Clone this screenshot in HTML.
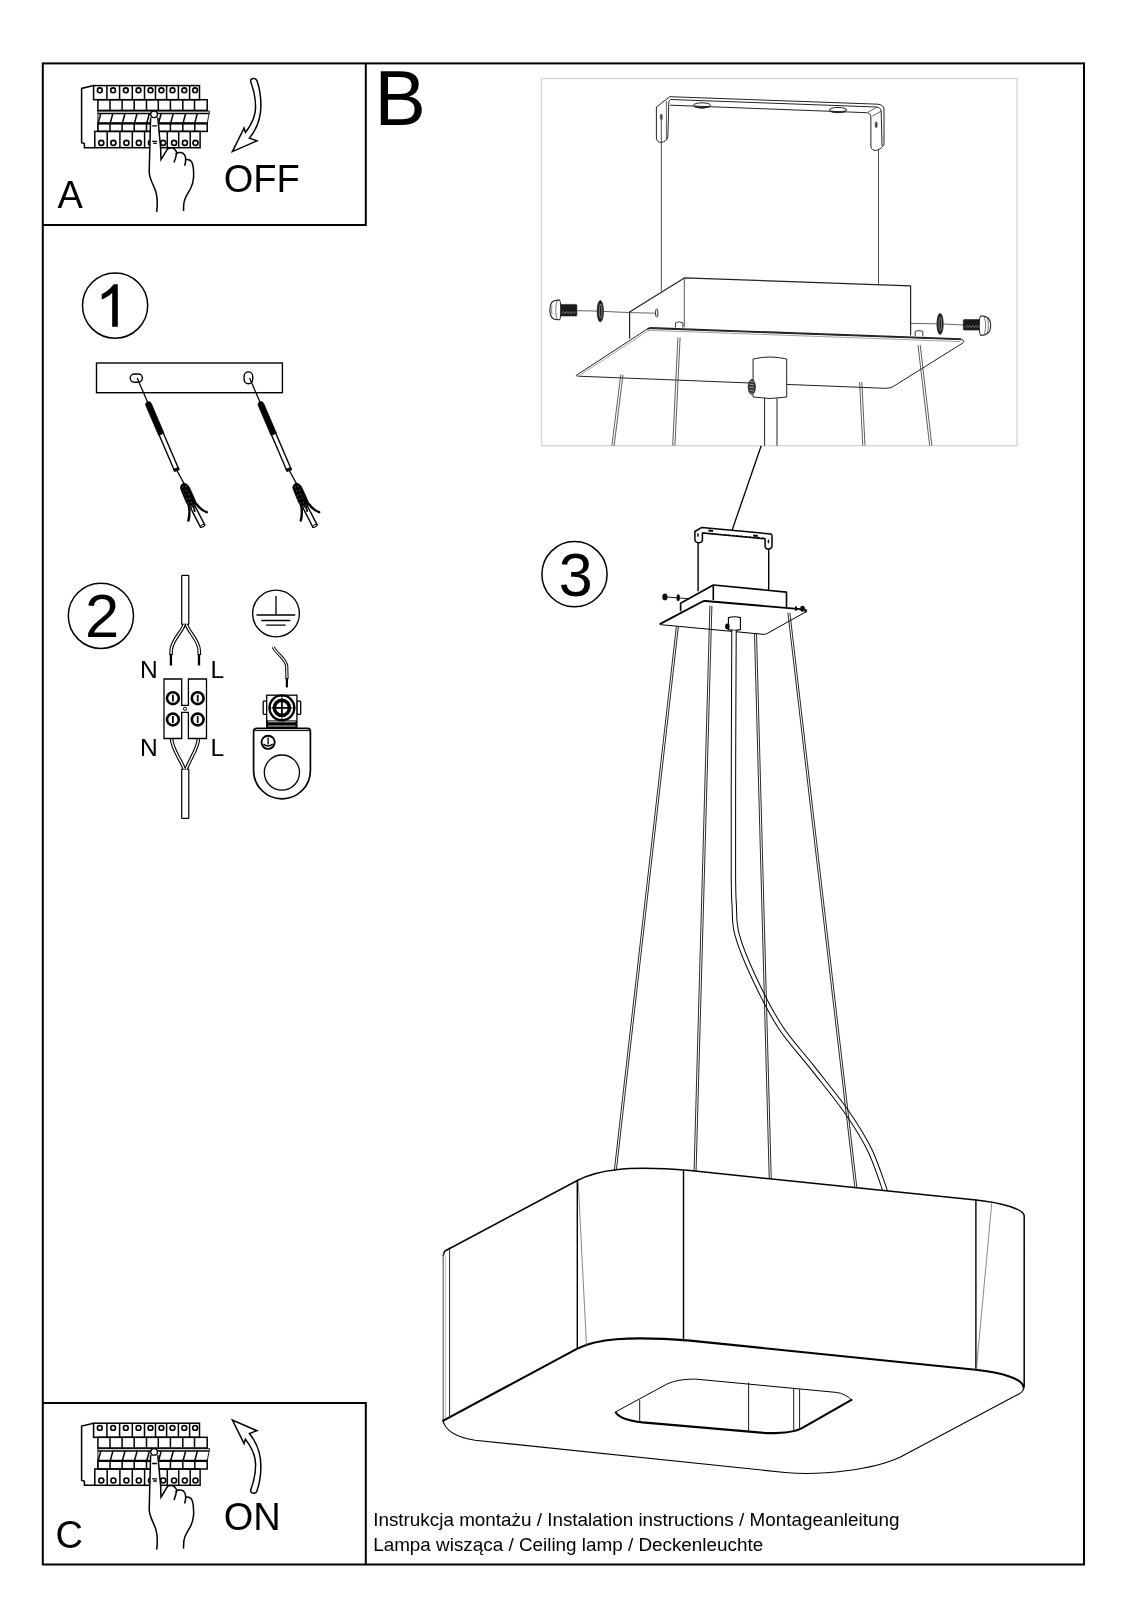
<!DOCTYPE html>
<html><head><meta charset="utf-8"><style>
html,body{margin:0;padding:0;background:#fff;}
svg{display:block;will-change:transform;}
</style></head><body>
<svg width="1130" height="1600" viewBox="0 0 1130 1600">
<rect width="1130" height="1600" fill="#fff"/>
<g fill="none" stroke="#000" stroke-width="2">
<rect x="42.8" y="63.4" width="1041.2" height="1501.1"/>
<path d="M365.8,63.4 V225 H42.8"/>
<path d="M365.8,1564.5 V1403.1 H42.8"/>
</g>
<g id="brk" fill="none" stroke="#000" stroke-width="1.5">
<path d="M93.6,85.6 L81.6,88.4 L81.6,142.6 L84.4,143.6 L84.4,147.7 L94.8,147.7"/>
<rect x="93.6" y="85.6" width="105.9" height="14.1"/>
<path d="M106.9,85.6 V99.7"/>
<path d="M119.6,85.6 V99.7"/>
<path d="M132.3,85.6 V99.7"/>
<path d="M144.5,85.6 V99.7"/>
<path d="M155.5,85.6 V99.7"/>
<path d="M166.6,85.6 V99.7"/>
<path d="M178.4,85.6 V99.7"/>
<path d="M189.6,85.6 V99.7"/>
<circle cx="99.8" cy="90.3" r="2.4" stroke-width="1.6"/>
<circle cx="113.1" cy="90.3" r="2.4" stroke-width="1.6"/>
<circle cx="125.8" cy="90.3" r="2.4" stroke-width="1.6"/>
<circle cx="138.5" cy="90.3" r="2.4" stroke-width="1.6"/>
<circle cx="150.5" cy="90.3" r="2.4" stroke-width="1.6"/>
<circle cx="161.4" cy="90.3" r="2.4" stroke-width="1.6"/>
<circle cx="172.5" cy="90.3" r="2.4" stroke-width="1.6"/>
<circle cx="184.3" cy="90.3" r="2.4" stroke-width="1.6"/>
<circle cx="195.1" cy="90.3" r="2.4" stroke-width="1.6"/>
<rect x="97.9" y="99.7" width="109.3" height="10.7"/>
<path d="M110,99.7 V110.4"/>
<path d="M122.1,99.7 V110.4"/>
<path d="M134.2,99.7 V110.4"/>
<path d="M146.5,99.7 V110.4"/>
<path d="M158.3,99.7 V110.4"/>
<path d="M170.4,99.7 V110.4"/>
<path d="M182.8,99.7 V110.4"/>
<path d="M194.5,99.7 V110.4"/>
<path d="M97.9,110.4 V131.4 M97.9,111.1 H209.6 L207.2,123.4" stroke-width="0.9"/>
<path d="M97.9,113.4 H209.2"/>
<path d="M100.9,113 L98.10000000000001,123.4"/>
<path d="M113,113 L110.2,123.4"/>
<path d="M125.1,113 L122.3,123.4"/>
<path d="M137.2,113 L134.39999999999998,123.4"/>
<path d="M149.5,113 L146.7,123.4"/>
<path d="M161.3,113 L158.5,123.4"/>
<path d="M173.4,113 L170.6,123.4"/>
<path d="M185.8,113 L183.0,123.4"/>
<path d="M197.5,113 L194.7,123.4"/>
<path d="M97.9,123.3 H207.2" stroke-width="2.2"/>
<rect x="97.9" y="123.4" width="109.3" height="8"/>
<path d="M110,123.4 V131.4"/>
<path d="M122.1,123.4 V131.4"/>
<path d="M134.2,123.4 V131.4"/>
<path d="M146.5,123.4 V131.4"/>
<path d="M158.3,123.4 V131.4"/>
<path d="M170.4,123.4 V131.4"/>
<path d="M182.8,123.4 V131.4"/>
<path d="M194.8,123.4 V131.4"/>
<rect x="94.8" y="131.4" width="105.3" height="16.3"/>
<path d="M107.2,131.4 V147.7"/>
<path d="M119.9,131.4 V147.7"/>
<path d="M132.3,131.4 V147.7"/>
<path d="M144.6,131.4 V147.7"/>
<path d="M155.5,131.4 V147.7"/>
<path d="M167.3,131.4 V147.7"/>
<path d="M178.7,131.4 V147.7"/>
<path d="M190.2,131.4 V147.7"/>
<circle cx="101.3" cy="142.9" r="2.5" stroke-width="1.6"/>
<circle cx="113.4" cy="142.9" r="2.5" stroke-width="1.6"/>
<circle cx="126.4" cy="142.9" r="2.5" stroke-width="1.6"/>
<circle cx="138.8" cy="142.9" r="2.5" stroke-width="1.6"/>
<circle cx="151" cy="142.9" r="2.5" stroke-width="1.6"/>
<circle cx="163.2" cy="142.9" r="2.5" stroke-width="1.6"/>
<circle cx="174.1" cy="142.9" r="2.5" stroke-width="1.6"/>
<circle cx="184.9" cy="142.9" r="2.5" stroke-width="1.6"/>
<circle cx="195.5" cy="142.9" r="2.5" stroke-width="1.6"/>
<path d="M156.7,212 C157.6,205 157.6,198 155.9,192 C154,185 149.5,180 149.2,172 L150.3,116.5 A3.5,3.5 0 1 1 157.4,116.5 L160.6,148 L161,159.6 L167.6,148.8 C170.5,147.4 174.2,147.8 175.6,150.5 C177,152.5 176.8,153.3 176.6,153.3 C178.3,151.8 183.2,152 184.9,155.4 C185.6,157 185.7,159.6 185.7,159.6 C188.5,159.2 191.2,160.2 192.4,163.5 C193.4,167 193.8,172 193.6,177.2 C193.2,182 192.5,185 190.6,188.5 C188.8,192 186.5,195 185,199 C183.6,202.5 183.4,206 183.6,211 Z" fill="#fff" stroke="none"/>
<path d="M156.7,212 C157.6,205 157.6,198 155.9,192 C154,185 149.5,180 149.2,172 L150.6,117.5"/>
<path d="M157.8,117.5 L160.6,148 L161,159.6 L167.6,148.8 C170.5,147.4 174.2,147.8 175.6,150.5 C177,152.5 176.8,153.3 176.6,153.3 C178.3,151.8 183.2,152 184.9,155.4 C185.6,157 185.7,159.6 185.7,159.6 C188.5,159.2 191.2,160.2 192.4,163.5 C193.4,167 193.8,172 193.6,177.2 C193.2,182 192.5,185 190.6,188.5 C188.8,192 186.5,195 185,199 C183.6,202.5 183.4,206 183.6,211"/>
<circle cx="154.1" cy="114.3" r="3.3" fill="#fff" stroke-width="1.3"/>
<path d="M176.6,153.3 C176,157 175,160 174,162.5 M185.7,159.6 C185.6,162 185.2,164 184.6,165.8"/>
<path d="M152.2,125.9 H156.9 M152.2,141.3 H157.1 M153.2,143.4 H156.8" stroke-width="1.3"/>
</g>
<path d="M250.7,81.5 C253.5,89 255.6,98 255.6,107.2 C255.6,116 252,124 245.4,132.5 L244.1,128 L232.4,151.6 L256.9,140.9 L249.4,138.1 C256,130 260.9,118 260.9,105.4 C260.9,96 259.5,88 256.9,80.6 C256,77.6 250,77.6 250.7,81.5 Z" fill="#fff" stroke="#000" stroke-width="1.5" stroke-linejoin="miter"/>
<use href="#brk" transform="translate(0,1337.6)"/>
<g transform="matrix(1 0 0 -1 0 1571.6)">
<path d="M250.7,81.5 C253.5,89 255.6,98 255.6,107.2 C255.6,116 252,124 245.4,132.5 L244.1,128 L232.4,151.6 L256.9,140.9 L249.4,138.1 C256,130 260.9,118 260.9,105.4 C260.9,96 259.5,88 256.9,80.6 C256,77.6 250,77.6 250.7,81.5 Z" fill="#fff" stroke="#000" stroke-width="1.5" stroke-linejoin="miter"/>
</g>
<g fill="none" stroke="#000" stroke-width="1.5">
<circle cx="115.1" cy="305.6" r="32.6"/>
<circle cx="100.9" cy="615.8" r="32.6"/>
<circle cx="574.5" cy="574.2" r="32.6"/>
</g>
<path d="M117.8,284.2 L117.8,326.7 L112.2,326.7 L112.2,293 C110,295.3 105.5,298 101.7,299.4 L101.7,294.2 C104.6,292.8 108,290.5 110.4,288 C112,286.3 113,285 113.6,284.2 Z" fill="#000"/>
<text x="84.9" y="636.7" font-size="61.5" style="font-family:'Liberation Sans',sans-serif">2</text>
<text x="558.8" y="596.1" font-size="61" style="font-family:'Liberation Sans',sans-serif">3</text>
<rect x="96.5" y="363" width="185.9" height="29.7" fill="none" stroke="#000" stroke-width="1.4"/>
<rect x="130.2" y="374" width="12.2" height="8.2" rx="4.1" fill="none" stroke="#000" stroke-width="1.4"/>
<rect x="244.1" y="371.9" width="8.6" height="11.8" rx="4.3" fill="none" stroke="#000" stroke-width="1.4"/>
<g transform="translate(137.2,378) rotate(-23.2)" stroke="#000">
<path d="M0,0 V27" stroke-width="1.25"/>
<path d="M-2.9,61 V28.8 Q-2.9,26 0,26 Q2.9,26 2.9,28.8 V61 Z" fill="#000" stroke-width="0.7"/>
<rect x="-2.3" y="61" width="4.6" height="38" fill="#fff" stroke-width="1.4"/>
<rect x="-2.7" y="98.3" width="5.4" height="2.6" fill="#000" stroke-width="0.6"/>
</g>
<path d="M177.1,470.9 L183.8,483.1" stroke="#000" stroke-width="1.2"/>
<g transform="translate(0.0,0)" stroke="#000">
<g transform="translate(193.6,508.5) rotate(-27.2)"><rect x="-2.4" y="-2" width="4.8" height="21.5" fill="#fff" stroke-width="1.4"/><ellipse cx="0" cy="19.5" rx="2.4" ry="1.1" fill="#fff" stroke-width="1.1"/></g>
<path d="M183.8,483.1 C182,483.6 180.6,485.5 180.4,487.6 C181,490 181.6,491.5 182.3,493 L184.2,497.7 L186.7,503.3 L188.8,506.5 L191.2,506 L193.6,504.6 L197.2,505 L192.8,494.8 L189.9,488.5 C188.5,485.5 186.5,483.3 183.8,483.1 Z" fill="#000" stroke-width="0.8"/>
<circle cx="183" cy="487" r="0.55" fill="#888" stroke="none"/>
<circle cx="185.7" cy="486.4" r="0.55" fill="#888" stroke="none"/>
<circle cx="184" cy="491" r="0.55" fill="#888" stroke="none"/>
<circle cx="187" cy="490.5" r="0.55" fill="#888" stroke="none"/>
<circle cx="185.3" cy="495" r="0.55" fill="#888" stroke="none"/>
<circle cx="188.4" cy="494.6" r="0.55" fill="#888" stroke="none"/>
<circle cx="186.6" cy="499" r="0.55" fill="#888" stroke="none"/>
<circle cx="189.8" cy="498.6" r="0.55" fill="#888" stroke="none"/>
<circle cx="188.2" cy="503" r="0.55" fill="#888" stroke="none"/>
<circle cx="191.2" cy="502.6" r="0.55" fill="#888" stroke="none"/>
<path d="M188.6,505 C189.8,510 189.6,515.5 188.4,520.6" fill="none" stroke-width="2.4" stroke-linecap="round"/>
<path d="M196.6,504.2 C199.5,508 202.5,511 206.8,512.2" fill="none" stroke-width="2.4" stroke-linecap="round"/>
<path d="M193.4,506 L194.8,511.2" fill="none" stroke-width="1.8" stroke-linecap="round"/>
</g>
<g transform="translate(249.6,378) rotate(-23.2)" stroke="#000">
<path d="M0,0 V27" stroke-width="1.25"/>
<path d="M-2.9,61 V28.8 Q-2.9,26 0,26 Q2.9,26 2.9,28.8 V61 Z" fill="#000" stroke-width="0.7"/>
<rect x="-2.3" y="61" width="4.6" height="38" fill="#fff" stroke-width="1.4"/>
<rect x="-2.7" y="98.3" width="5.4" height="2.6" fill="#000" stroke-width="0.6"/>
</g>
<path d="M289.5,470.9 L296.2,483.1" stroke="#000" stroke-width="1.2"/>
<g transform="translate(112.4,0)" stroke="#000">
<g transform="translate(193.6,508.5) rotate(-27.2)"><rect x="-2.4" y="-2" width="4.8" height="21.5" fill="#fff" stroke-width="1.4"/><ellipse cx="0" cy="19.5" rx="2.4" ry="1.1" fill="#fff" stroke-width="1.1"/></g>
<path d="M183.8,483.1 C182,483.6 180.6,485.5 180.4,487.6 C181,490 181.6,491.5 182.3,493 L184.2,497.7 L186.7,503.3 L188.8,506.5 L191.2,506 L193.6,504.6 L197.2,505 L192.8,494.8 L189.9,488.5 C188.5,485.5 186.5,483.3 183.8,483.1 Z" fill="#000" stroke-width="0.8"/>
<circle cx="183" cy="487" r="0.55" fill="#888" stroke="none"/>
<circle cx="185.7" cy="486.4" r="0.55" fill="#888" stroke="none"/>
<circle cx="184" cy="491" r="0.55" fill="#888" stroke="none"/>
<circle cx="187" cy="490.5" r="0.55" fill="#888" stroke="none"/>
<circle cx="185.3" cy="495" r="0.55" fill="#888" stroke="none"/>
<circle cx="188.4" cy="494.6" r="0.55" fill="#888" stroke="none"/>
<circle cx="186.6" cy="499" r="0.55" fill="#888" stroke="none"/>
<circle cx="189.8" cy="498.6" r="0.55" fill="#888" stroke="none"/>
<circle cx="188.2" cy="503" r="0.55" fill="#888" stroke="none"/>
<circle cx="191.2" cy="502.6" r="0.55" fill="#888" stroke="none"/>
<path d="M188.6,505 C189.8,510 189.6,515.5 188.4,520.6" fill="none" stroke-width="2.4" stroke-linecap="round"/>
<path d="M196.6,504.2 C199.5,508 202.5,511 206.8,512.2" fill="none" stroke-width="2.4" stroke-linecap="round"/>
<path d="M193.4,506 L194.8,511.2" fill="none" stroke-width="1.8" stroke-linecap="round"/>
</g>
<g fill="#fff" stroke="#000" stroke-width="1.2">
<rect x="181.7" y="575.4" width="7.1" height="49" rx="0.6"/>
<rect x="181.7" y="769" width="7.1" height="49.3" rx="0.6"/>
</g>
<path d="M184.2,624.4 C182,632 171.8,640 171.2,650 L171,655" fill="none" stroke="#000" stroke-width="3.6"/>
<path d="M184.2,624.4 C182,632 171.8,640 171.2,650 L171,655" fill="none" stroke="#fff" stroke-width="1.4"/>
<path d="M186.4,624.4 C188.6,632 198.6,640 199.2,650 L199.3,655" fill="none" stroke="#000" stroke-width="3.6"/>
<path d="M186.4,624.4 C188.6,632 198.6,640 199.2,650 L199.3,655" fill="none" stroke="#fff" stroke-width="1.4"/>
<path d="M170.9,654 V665.5 M199,654 V665.5" stroke="#000" stroke-width="2.3"/>
<path d="M171.6,738.5 C171.6,748 179.8,758 184.3,769" fill="none" stroke="#000" stroke-width="3.6"/>
<path d="M171.6,738.5 C171.6,748 179.8,758 184.3,769" fill="none" stroke="#fff" stroke-width="1.4"/>
<path d="M198.4,738.5 C198.4,748 190.4,758 186.2,769" fill="none" stroke="#000" stroke-width="3.6"/>
<path d="M198.4,738.5 C198.4,748 190.4,758 186.2,769" fill="none" stroke="#fff" stroke-width="1.4"/>
<g fill="#fff" stroke="#000" stroke-width="1.3">
<path d="M164,679 H181.7 V705.3 H188.4 V679 H206.5 V738.5 H188.4 V712.4 H181.7 V738.5 H164 Z"/>
</g>
<circle cx="185" cy="708.8" r="1.6" fill="none" stroke="#000" stroke-width="0.9"/>
<circle cx="172.9" cy="698.2" r="5.9" fill="none" stroke="#000" stroke-width="2.6"/>
<path d="M172.9,694.8000000000001 V701.6" stroke="#000" stroke-width="1.8"/>
<circle cx="197.7" cy="698.2" r="5.9" fill="none" stroke="#000" stroke-width="2.6"/>
<path d="M197.7,694.8000000000001 V701.6" stroke="#000" stroke-width="1.8"/>
<circle cx="172.9" cy="719.5" r="5.9" fill="none" stroke="#000" stroke-width="2.6"/>
<path d="M172.9,716.1 V722.9" stroke="#000" stroke-width="1.8"/>
<circle cx="197.7" cy="719.5" r="5.9" fill="none" stroke="#000" stroke-width="2.6"/>
<path d="M197.7,716.1 V722.9" stroke="#000" stroke-width="1.8"/>
<g fill="none" stroke="#000" stroke-width="1.3">
<circle cx="276" cy="613.5" r="23.4"/>
<path d="M276,596 V614.8 M256.5,615 H295.2 M261.3,620.5 H290.4 M266.1,625.1 H285.6"/>
</g>
<path d="M273.3,647 C276,653.5 285.5,658 286.7,666 L287,679" fill="none" stroke="#000" stroke-width="3.2"/>
<path d="M273.3,647 C276,653.5 285.5,658 286.7,666 L287,679" fill="none" stroke="#fff" stroke-width="1.2"/>
<path d="M286.9,678 V687.4" stroke="#000" stroke-width="2.2"/>
<g stroke="#000" stroke-width="1.3" fill="#fff">
<rect x="263.2" y="701.2" width="3.8" height="13.2" rx="0.8"/>
<rect x="296.9" y="701.2" width="3.8" height="13.2" rx="0.8"/>
<rect x="266.7" y="695.2" width="30.2" height="32.8"/>
<path d="M253.6,731.5 Q253.6,728.4 256.8,728.4 H307.4 Q310.4,728.4 310.4,731.5 V770.4 A28.4,28.4 0 0 1 253.6,770.4 Z" stroke-width="1.7"/>
</g>
<rect x="266.7" y="720.4" width="30.2" height="8" fill="#000"/>
<path d="M268,721.8 H295.6 M268,726 H295.6" stroke="#fff" stroke-width="0.8"/>
<path d="M254.8,730.6 H309.2" stroke="#000" stroke-width="1"/>
<circle cx="281.9" cy="707.8" r="12.4" fill="#fff" stroke="#000" stroke-width="2.4"/>
<circle cx="281.9" cy="707.8" r="7.6" fill="#fff" stroke="#000" stroke-width="3.6"/>
<path d="M281.9,695.6 V720 M269.7,707.8 H294.1" stroke="#000" stroke-width="1.8"/>
<circle cx="281.9" cy="707.8" r="10.3" fill="none" stroke="#fff" stroke-width="0.9"/>
<circle cx="268.1" cy="742.3" r="6.6" fill="none" stroke="#000" stroke-width="1.9"/>
<path d="M268.1,737.4 V744.5 M263.4,744 Q268.1,748 272.8,744" fill="none" stroke="#000" stroke-width="1.3"/>
<circle cx="281.9" cy="772.6" r="17.6" fill="none" stroke="#000" stroke-width="1.3"/>
<rect x="541.5" y="78.5" width="475.5" height="367.2" fill="none" stroke="#d4d4d4" stroke-width="1.3"/>
<g fill="none" stroke="#222" stroke-width="1" stroke-linejoin="round">
<path d="M656.4,107 L669.8,96.7 L878,104.2 C881,104.5 883.8,106 884,109 V143.8 C883.5,147.5 877,151.5 873.7,150.2 C871.5,149.5 870.9,147.5 870.9,146 V117 C870.9,114.5 869,112.7 866.6,112.7 L670.2,105.2"/>
<path d="M656.4,107 V138.1 C656.6,141 659,142.6 661,142.4 C664.5,142 667.3,140 667.8,137 L668.8,103 C668.9,101 669.5,100 670.5,99.5 L876.5,107 C879,107.2 880.8,108.5 881.2,111 L882,146"/>
<path d="M666.4,101 V140 M868,112.2 L877.3,107 M872.3,116.2 L881.2,111.2" stroke-width="0.7"/>
<ellipse cx="702" cy="105.4" rx="8.6" ry="2.6"/>
<ellipse cx="838" cy="110" rx="8.6" ry="2.6"/>
<path d="M695,106.6 Q702,108.6 709,106.6 M831,111.2 Q838,113.2 845,111.2" stroke-width="1.6"/>
<ellipse cx="661.3" cy="117" rx="1" ry="3" fill="#555" stroke-width="0.6"/>
<ellipse cx="876.2" cy="124.7" rx="1" ry="3" fill="#555" stroke-width="0.6"/>
<path d="M661.3,120 V291 M878.5,148.8 V284.4" stroke-width="0.8"/>
<path d="M629.6,338.5 V312 L684.4,277.9 L910.6,285.9 V335.4" stroke-width="1.2"/>
<path d="M684.3,278.3 V327.3" stroke-width="0.9" stroke="#444"/>
<path d="M576.5,375.2 L646.5,329.5 C647.5,328.8 648.5,328.6 650,328.6 L961,339.6 C964,339.8 965,341.5 962.5,343.2 L894,386 C891.5,387.6 889,388.3 885,388.3 L578.2,376.2 C576.5,376 576,375.6 576.5,375.2 Z" fill="#fff" stroke-width="1"/>
<path d="M647.2,329.6 C648.5,328.2 649.5,327.8 651,327.8 L961,339" stroke-width="1.4"/>
<path d="M578,376.4 L647.5,331.2 C648.5,330.6 649.5,330.4 651,330.4 L960,341.6" stroke-width="0.9" stroke="#999"/>
<path d="M675.5,327.6 V322.9 Q679.2,320.6 682.9,322.9 V327.6 M915.2,336.3 V331.3 Q919,329.8 922.8,331.3 V336.3" fill="#fff" stroke-width="0.9"/>
<path d="M620.81,374.46 L611.91,445.46 M622.99,374.74 L614.09,445.74" stroke="#333" stroke-width="0.8" fill="none"/>
<path d="M677.90,337.35 L672.70,445.55 M680.10,337.45 L674.90,445.65" stroke="#333" stroke-width="0.8" fill="none"/>
<path d="M859.60,382.16 L862.80,445.66 M861.80,382.04 L865.00,445.54" stroke="#333" stroke-width="0.8" fill="none"/>
<path d="M918.01,345.13 L929.71,445.73 M920.19,344.87 L931.89,445.47" stroke="#333" stroke-width="0.8" fill="none"/>
<path d="M753.1,397 V359 Q770,355 786.7,359 V397" fill="#fff" stroke-width="1"/>
<path d="M753.1,397 Q770,400 786.7,397" stroke-width="1"/>
<path d="M764.6,398 V445.7 M777,398 V445.7" stroke-width="1"/>
<ellipse cx="751.8" cy="387" rx="3.6" ry="7.6" fill="#333" stroke-width="0.8"/>
<path d="M749.5,381 L754,382 M749.5,384 L754,385 M749.5,387 L754,388 M749.5,390 L754,391 M749.5,393 L754,394" stroke="#fff" stroke-width="0.5"/>
<path d="M576.9,310.7 L597,311.1 M603.6,311.4 L629.6,312.6 L655.4,313.2" stroke-width="0.7"/>
<ellipse cx="656.7" cy="313" rx="1.2" ry="4.2" stroke-width="0.9"/>
<rect x="560.4" y="304.4" width="16.5" height="11.6" rx="1" fill="#1a1a1a" stroke-width="0.6"/>
<path d="M562,313.6 L563.5,311.5 L565,313.6 L566.5,311.5 L568,313.6 L569.5,311.5 L571,313.6 L572.5,311.5 L574,313.6 L575.5,311.5" stroke="#aaa" stroke-width="0.6"/>
<path d="M557.5,300.1 C551.5,300.1 549.8,305 549.8,309.9 C549.8,314.8 551.5,319.7 557.5,319.7 L559.3,319.7 C561.2,319.7 561.2,300.1 559.3,300.1 Z" fill="#fff" stroke-width="1.1"/>
<path d="M557.5,300.1 C556,303 555.8,307 555.8,309.9 C555.8,313 556,316.8 557.5,319.7 M552,305.5 C551.5,308 551.5,312 552,314.3" stroke-width="0.6"/>
<ellipse cx="600.3" cy="311.2" rx="3.1" ry="10.6" fill="#222" stroke="#111" stroke-width="0.8"/>
<ellipse cx="600.6" cy="311.2" rx="1.3" ry="7" fill="none" stroke="#bbb" stroke-width="0.6"/>
<path d="M910.6,323.4 L937,323.8 M943.5,324 L963.3,325" stroke-width="0.7"/>
<rect x="963.3" y="319.5" width="19.4" height="10.6" rx="1" fill="#1a1a1a" stroke-width="0.6"/>
<path d="M965,327.6 L966.6,325.5 L968.2,327.6 L969.8,325.5 L971.4,327.6 L973,325.5 L974.6,327.6 L976.2,325.5 L977.8,327.6 L979.4,325.5 L981,327.6" stroke="#aaa" stroke-width="0.6"/>
<path d="M981.2,315.9 C988.5,315.9 990.7,320.5 990.7,325.6 C990.7,330.7 988.5,335.4 981.2,335.4 C978.6,335.4 978.6,315.9 981.2,315.9 Z" fill="#fff" stroke-width="1.1"/>
<path d="M984,316.3 C986,320 986.2,331 984,335 M987.5,318 C988.6,322 988.6,329 987.5,333.2" stroke-width="0.6"/>
<ellipse cx="940.1" cy="323.9" rx="3.1" ry="10.4" fill="#222" stroke="#111" stroke-width="0.8"/>
<ellipse cx="940.4" cy="323.9" rx="1.3" ry="6.8" fill="none" stroke="#bbb" stroke-width="0.6"/>
</g>
<path d="M761.2,445.7 L730.8,534" stroke="#000" stroke-width="1.3"/>
<g fill="none" stroke="#000" stroke-width="1.5" stroke-linejoin="round">
<path d="M694.9,531.5 L701.8,527.4 L771,534 C771.8,534.2 772,535 772,536 V546.5 C771.5,549 767,550 765.6,548 C765.2,547.3 765.1,546.5 765.1,545.5 V538.8 L702.4,533 V540.6 C702,543 697.5,543.6 695.6,541.6 C695.1,541 694.9,540.3 694.9,539.5 Z" fill="#fff"/>
<path d="M702.6,532.8 L765,538.2" stroke-width="0.9" stroke-dasharray="3 1.2"/>
</g>
<path d="M708.5,530.6 L713,531.1 M753.2,535.4 L757.8,535.9" stroke="#000" stroke-width="2"/>
<ellipse cx="697.9" cy="535" rx="0.8" ry="2" fill="#000"/>
<ellipse cx="768.4" cy="541.5" rx="0.8" ry="2" fill="#000"/>
<path d="M698.1,542 V591.3 M768.7,549.1 V589.7" stroke="#000" stroke-width="1.4"/>
<g fill="none" stroke="#000" stroke-width="1.6" stroke-linejoin="round">
<path d="M680.6,611.2 V603.3 L713.3,585 L786.5,592.1 V607.2 M713.3,585 V600"/>
<path d="M660.7,623.6 L702.5,601.5 C703.5,601 704.5,600.9 705.5,601 L803.5,609.4 C806.5,609.8 807,611 805,612.3 L768,633 C766.5,634 765,634.4 763,634.3 L662,624.8 C660.6,624.6 660.2,624 660.7,623.6 Z" fill="#fff" stroke="none"/>
<path d="M661.2,624.6 C660.2,624 660.2,623.8 660.7,623.6 L702.5,601.5 C703.5,601 704.5,600.9 705.5,601 L803.5,609.4 C806.5,609.8 807,611 805,612.3" stroke-width="1.9"/>
<path d="M805,612.3 L768,633 C766.5,634 765,634.4 763,634.3 L662,624.8 C661.5,624.75 661.3,624.7 661.2,624.6" stroke-width="1"/>
</g>
<ellipse cx="664.9" cy="596.9" rx="2.6" ry="3.4" fill="#111"/>
<ellipse cx="678.2" cy="597.7" rx="1.7" ry="3.4" fill="#111"/>
<path d="M664.9,596.9 L690,598.8" stroke="#000" stroke-width="0.9"/>
<ellipse cx="802.5" cy="608.8" rx="2.4" ry="3" fill="#111"/>
<ellipse cx="796" cy="608.5" rx="1.2" ry="2.6" fill="#111"/>
<path d="M728.4,629.6 V617.6 Q734.4,615.8 740.4,617.6 V629.6 Q734.4,631 728.4,629.6 Z" fill="#fff" stroke="#000" stroke-width="1.1"/>
<ellipse cx="727.4" cy="626.6" rx="2.3" ry="3" fill="#000"/>
<path d="M734,630.5 C733.92,652.08 733.60,719.58 733.5,760 C733.40,800.42 733.28,848.83 733.4,873 C733.52,897.17 733.60,894.77 734.2,905 C734.80,915.23 733.77,922.42 737,934.4 C740.23,946.38 746.43,961.55 753.6,976.9 C760.77,992.25 770.27,1011.48 780,1026.5 C789.73,1041.52 800.93,1052.83 812,1067 C823.07,1081.17 836.78,1097.67 846.4,1111.5 C856.02,1125.33 863.17,1136.58 869.7,1150 C876.23,1163.42 882.95,1185.00 885.6,1192" fill="none" stroke="#000" stroke-width="5.4"/>
<path d="M734,630.5 C733.92,652.08 733.60,719.58 733.5,760 C733.40,800.42 733.28,848.83 733.4,873 C733.52,897.17 733.60,894.77 734.2,905 C734.80,915.23 733.77,922.42 737,934.4 C740.23,946.38 746.43,961.55 753.6,976.9 C760.77,992.25 770.27,1011.48 780,1026.5 C789.73,1041.52 800.93,1052.83 812,1067 C823.07,1081.17 836.78,1097.67 846.4,1111.5 C856.02,1125.33 863.17,1136.58 869.7,1150 C876.23,1163.42 882.95,1185.00 885.6,1192" fill="none" stroke="#fff" stroke-width="3.4"/>
<path d="M676.41,626.19 L614.11,1172.29 M678.39,626.41 L616.09,1172.51" stroke="#111" stroke-width="0.9" fill="none"/>
<path d="M709.90,605.67 L694.00,1172.97 M711.90,605.73 L696.00,1173.03" stroke="#111" stroke-width="0.9" fill="none"/>
<path d="M754.50,633.73 L769.30,1181.03 M756.50,633.67 L771.30,1180.97" stroke="#111" stroke-width="0.9" fill="none"/>
<path d="M787.91,612.92 L855.01,1189.12 M789.89,612.68 L856.99,1188.88" stroke="#111" stroke-width="0.9" fill="none"/>
<path d="M443.3,1253.5 C444.5,1249.5 446.8,1247.6 449.9,1246.6 L577.3,1180.5 C596,1170.4 625,1165 690,1170.6 L975.9,1200 C1002.5,1202.6 1024.2,1209.7 1024.2,1215.8 L1024.2,1386 C1024,1390 1021.5,1392.5 1019.4,1393.7 L900,1457.2 C873.3,1469.4 821.6,1476.2 785,1472.5 L475.1,1440.2 C458,1437.5 446,1431 443.3,1421.6 Z" fill="#fff" stroke="none"/>
<g fill="none" stroke="#000" stroke-linejoin="round" stroke-linecap="round">
<path d="M443.4,1255.5 C443.6,1253.5 444,1252 445,1251 L577.3,1180.5 C596,1170.4 625,1165 690,1170.6 L975.9,1200 C1002.5,1202.6 1024.2,1209.7 1024.2,1215.8 V1386" stroke-width="1.5"/>
<path d="M443.2,1254 V1423" stroke="#555" stroke-width="1.1"/>
<path d="M445.6,1256 V1420" stroke="#999" stroke-width="0.6"/>
<path d="M443.3,1420.6 L577.3,1348.6 C596,1339.5 625,1335.5 690,1340.6 L975.6,1369.8 C1002,1372.5 1023.3,1379 1023.3,1387" stroke-width="2.1"/>
<path d="M443.3,1421.6 C446,1431 458,1437.5 475.1,1440.2 L785,1472.5 C821.6,1476.2 873.3,1469.4 900,1457.2 L1019.4,1393.7 C1021.5,1392.5 1024,1390 1024.2,1386" stroke-width="1.1"/>
<path d="M577.3,1180.5 V1348.6 M683.5,1170.5 V1340.6 M975.9,1200 V1369.8" stroke-width="1.4"/>
<path d="M578.2,1182 L586.5,1346 M991.7,1203.7 L976.5,1368" stroke-width="0.7" stroke="#555"/>
<path d="M449.6,1248 V1417.5" stroke-width="0.9" stroke="#111"/>
<path d="M615.8,1411.8 L666.3,1384.4 C674,1380.6 684,1379 695.5,1379.1 L836.2,1392.4 C842,1393 848,1396 851.5,1399.9" stroke-width="1"/>
<path d="M851.5,1399.9 L802.4,1427.8 C796,1431.4 785,1433.4 766.5,1433.1 L642.4,1422.4 C631,1421 619,1418 615.8,1412.5" stroke-width="2.1"/>
<path d="M639.7,1400.3 V1421.6 M748.6,1383 V1432 M793.7,1389 V1429.5 M799.6,1389.6 V1428" stroke-width="0.9"/>
</g>
<g style="font-family:'Liberation Sans',sans-serif" fill="#000">
<text x="57.4" y="207.5" font-size="38">A</text>
<text x="223.7" y="192.3" font-size="38">OFF</text>
<text x="374.6" y="124.7" font-size="77">B</text>
<text x="55.6" y="1547.7" font-size="38">C</text>
<text x="223.7" y="1530" font-size="38">ON</text>
<text x="140" y="678.2" font-size="24.6">N</text>
<text x="210.6" y="678.2" font-size="24.6">L</text>
<text x="140" y="756.2" font-size="24.6">N</text>
<text x="210.6" y="756.2" font-size="24.6">L</text>
<text x="373.2" y="1525.8" font-size="18.86">Instrukcja montażu / Instalation instructions / Montageanleitung</text>
<text x="373.2" y="1550.5" font-size="18.86">Lampa wisząca / Ceiling lamp / Deckenleuchte</text>
</g>
</svg>
</body></html>
